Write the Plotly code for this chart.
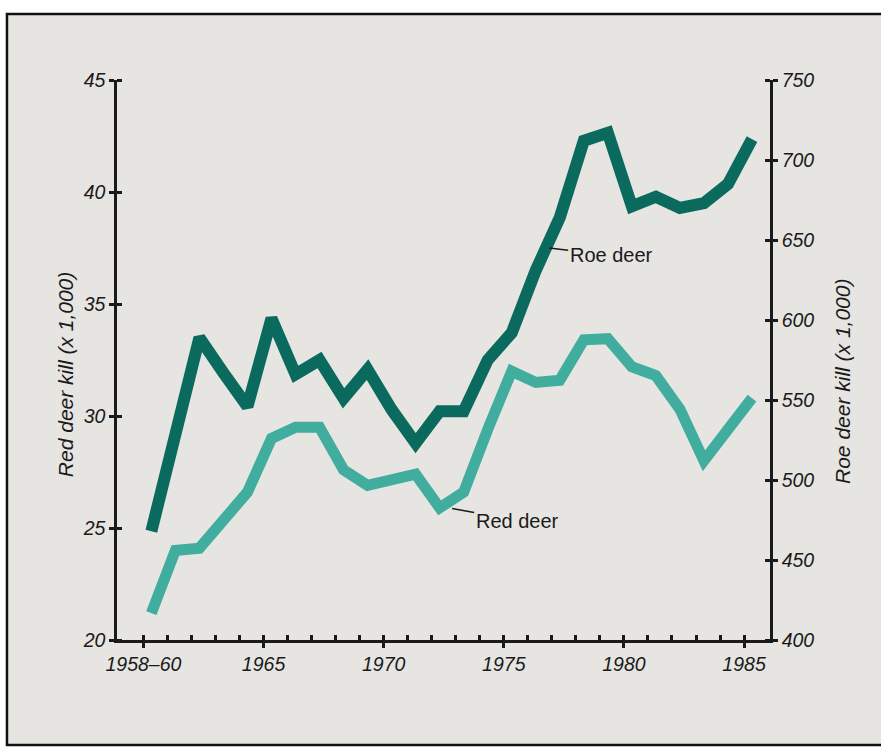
import plotly.graph_objects as go

years = list(range(1960, 1986))
tick_labels = ["1958–60" if y == 1960 else (str(y) if y % 5 == 0 else "") for y in years]

# Roe deer kill (x 1,000) - right axis
roe_deer = [468, 531, 589, 567, 546, 601, 566, 575, 551, 569, 544, 523, 543,
            543, 575, 592, 631, 664, 712, 717, 671, 677, 670, 673, 685, 713]
# Red deer kill (x 1,000) - left axis
red_deer = [21.2, 24.0, 24.1, 25.3, 26.6, 29.0, 29.5, 29.5, 27.6, 26.9, 27.15,
            27.4, 25.9, 26.6, 29.4, 32.0, 31.5, 31.6, 33.4, 33.45, 32.2, 31.8,
            30.3, 28.0, 29.4, 30.8]

left_ticks = [20, 25, 30, 35, 40, 45]
right_ticks = [400, 450, 500, 550, 600, 650, 700, 750]

TICK_SHIFT = -0.33  # tick marks sit slightly left of the plotted points in the original
FONT = "Liberation Sans, Arial, sans-serif"
INK = "#1a1a1a"
DARK = "#0a6a5d"
LIGHT = "#40ad9f"
BG = "#e7e5e2"

fig = go.Figure()
fig.add_trace(go.Scatter(x=years, y=red_deer, mode="lines", yaxis="y",
                         line=dict(color=LIGHT, width=11), showlegend=False,
                         hoverinfo="skip"))
fig.add_trace(go.Scatter(x=years, y=roe_deer, mode="lines", yaxis="y2",
                         line=dict(color=DARK, width=12), showlegend=False,
                         hoverinfo="skip"))

axis_common = dict(showgrid=False, zeroline=False, showline=True,
                   linecolor=INK, linewidth=2.5,
                   ticks="outside", ticklen=5, tickwidth=2.5, tickcolor=INK)


def cross_minor(vals):
    return dict(ticks="inside", ticklen=5, tickwidth=2.5, tickcolor=INK,
                tickmode="array", tickvals=vals)


tick_font = dict(size=19.5, family=FONT, style="italic", color=INK)

# page frame (paper coordinates)
FX0, FX1, FY0, FY1 = -0.1685, 1.25, -0.1875, 1.118

fig.update_layout(
    width=881, height=749,
    margin=dict(l=117, r=111, t=80, b=109),
    paper_bgcolor="white",
    plot_bgcolor="rgba(0,0,0,0)",
    font=dict(family=FONT, color=INK),
    xaxis=dict(range=[1958.57, 1985.75],
               tickmode="array",
               tickvals=[y + TICK_SHIFT for y in years],
               ticktext=tick_labels,
               tickfont=tick_font,
               minor=cross_minor([y + TICK_SHIFT for y in years]),
               **axis_common),
    yaxis=dict(range=[20, 45], tickmode="array", tickvals=left_ticks,
               tickfont=tick_font, minor=cross_minor(left_ticks),
               **axis_common),
    yaxis2=dict(range=[400, 750], overlaying="y", side="right",
                tickmode="array", tickvals=right_ticks,
                tickfont=tick_font, minor=cross_minor(right_ticks),
                **axis_common),
    shapes=[
        dict(type="rect", xref="paper", yref="paper",
             x0=FX0, x1=FX1, y0=FY0, y1=FY1,
             fillcolor=BG, line=dict(width=0), layer="below"),
        dict(type="path", xref="paper", yref="paper",
             path=f"M {FX1},{FY1} L {FX0},{FY1} L {FX0},{FY0} L {FX1},{FY0}",
             line=dict(color="#111111", width=2.5), layer="below"),
    ],
    annotations=[
        dict(text="Red deer kill (x 1,000)", xref="paper", yref="paper",
             x=-0.0796, y=0.473, showarrow=False, textangle=-90,
             font=dict(size=21, family=FONT, style="italic"),
             xanchor="center", yanchor="middle"),
        dict(text="Roe deer kill (x 1,000)", xref="paper", yref="paper",
             x=1.112, y=0.461, showarrow=False, textangle=-90,
             font=dict(size=21, family=FONT, style="italic"),
             xanchor="center", yanchor="middle"),
        dict(text="Roe deer", x=1976.56, y=645, xref="x", yref="y2",
             showarrow=True, arrowhead=0, arrowwidth=1.5, arrowcolor=INK,
             ax=62, ay=7, font=dict(size=20, family=FONT)),
        dict(text="Red deer", x=1972.52, y=25.87, xref="x", yref="y",
             showarrow=True, arrowhead=0, arrowwidth=1.5, arrowcolor=INK,
             ax=65, ay=12, font=dict(size=20, family=FONT)),
    ],
)

fig.write_html(
    "out.html",
    config={"displayModeBar": False},
    post_script="document.body.style.margin='0';document.body.style.overflow='hidden';",
)
